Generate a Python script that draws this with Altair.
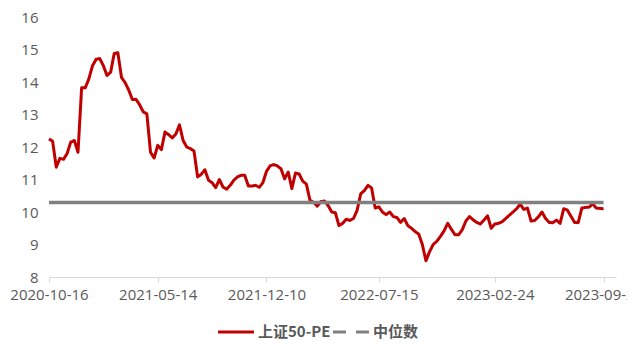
import altair as alt
import pandas as pd

# Weekly PE values of SSE 50
pe = [
    12.25, 12.18, 11.38, 11.65, 11.62, 11.80, 12.15, 12.20, 11.84, 13.82,
    13.82, 14.10, 14.50, 14.70, 14.72, 14.50, 14.20, 14.30, 14.88, 14.90,
    14.14, 13.98, 13.75, 13.46, 13.47, 13.30, 13.08, 13.02, 11.84, 11.66,
    12.05, 11.92, 12.46, 12.38, 12.28, 12.40, 12.68, 12.20, 12.00, 11.95,
    11.88, 11.08, 11.16, 11.30, 10.98, 10.90, 10.75, 11.00, 10.77, 10.70,
    10.82, 10.98, 11.08, 11.13, 11.13, 10.80, 10.80, 10.82, 10.76, 10.90,
    11.25, 11.42, 11.46, 11.42, 11.33, 11.02, 11.23, 10.72, 11.20, 11.17,
    10.95, 10.86, 10.36, 10.30, 10.18, 10.32, 10.34, 10.20, 10.00, 9.98,
    9.58, 9.65, 9.78, 9.74, 9.80, 10.05, 10.56, 10.66, 10.82, 10.74,
    10.12, 10.16, 10.00, 9.92, 10.00, 9.86, 9.83, 9.68, 9.80, 9.58,
    9.50, 9.40, 9.32, 9.00, 8.50, 8.78, 9.00, 9.10, 9.25, 9.42,
    9.65, 9.47, 9.30, 9.30, 9.45, 9.72, 9.86, 9.76, 9.68, 9.63,
    9.75, 9.88, 9.50, 9.63, 9.65, 9.70, 9.80, 9.90, 10.00, 10.10,
    10.24, 10.08, 10.12, 9.72, 9.74, 9.85, 10.00, 9.80, 9.68, 9.67,
    9.75, 9.65, 10.10, 10.06, 9.87, 9.68, 9.67, 10.12, 10.14, 10.15,
    10.25, 10.12, 10.11, 10.10,
]
median_pe = 10.29
start_date = "2020-10-16"
tick_dates = [(2020, 10, 16), (2021, 5, 14), (2021, 12, 10),
              (2022, 7, 15), (2023, 2, 24), (2023, 9, 22)]
domain_end = (2023, 10, 16)
y_ticks = [8, 9, 10, 11, 12, 13, 14, 15, 16]
series_names = ["上证50-PE", "中位数"]
series_colors = ["#C00000", "#808080"]

dates = list(pd.date_range(start_date, periods=len(pe), freq="7D").strftime("%Y-%m-%d"))
n = len(pe)
df = pd.DataFrame({
    "date": dates * 2,
    "value": pe + [median_pe] * n,
    "series": [series_names[0]] * n + [series_names[1]] * n,
})

def dt(t):
    return alt.DateTime(year=t[0], month=t[1], date=t[2], utc=True)

x_enc = alt.X(
    "date:T",
    scale=alt.Scale(type="utc", domain=[dt(tick_dates[0]), dt(domain_end)]),
    axis=alt.Axis(
        values=[dt(t) for t in tick_dates], format="%Y-%m-%d", title=None,
        grid=False, domainColor="#d9d9d9", tickColor="#d9d9d9", tickSize=5,
        labelPadding=5, labelFont="Open Sans", labelFontSize=15,
        labelColor="#595959", labelOverlap=False, labelFlush=False,
    ),
)
y_enc = alt.Y(
    "value:Q",
    scale=alt.Scale(domain=[8, 16], nice=False, zero=False),
    axis=alt.Axis(
        values=y_ticks, title=None, grid=False, domain=False, ticks=False,
        labelPadding=11, labelFont="Open Sans", labelFontSize=15,
        labelColor="#595959",
    ),
)
color_enc = alt.Color(
    "series:N",
    scale=alt.Scale(domain=series_names, range=series_colors),
    legend=alt.Legend(title=None),
)
dash_enc = alt.StrokeDash(
    "series:N",
    scale=alt.Scale(domain=series_names, range=[[1, 0], [13, 10]]),
    legend=alt.Legend(title=None),
)

base = alt.Chart(df)
pe_line = base.transform_filter(alt.datum.series == series_names[0]).mark_line(
    strokeWidth=3, strokeJoin="round"
).encode(x=x_enc, y=y_enc, color=color_enc, strokeDash=dash_enc)

med_line = base.transform_filter(alt.datum.series == series_names[1]).mark_line(
    strokeWidth=3.5
).encode(x=x_enc, y=y_enc, color=color_enc)

chart = alt.layer(pe_line, med_line).properties(
    width=567, height=260,
    autosize=alt.AutoSizeParams(type="none"),
    padding={"left": 41, "top": 9, "right": 11, "bottom": 64},
).configure_view(strokeWidth=0).configure_legend(
    orient="none", legendX=167, legendY=295, direction="horizontal",
    symbolType="stroke", symbolSize=1300, symbolStrokeWidth=3,
    labelFont="Noto Sans CJK SC", labelFontWeight="bold", labelFontSize=15,
    labelColor="#595959", labelOffset=2, columnPadding=-8,
)

chart.save("out.html", embed_options={"renderer": "svg", "actions": False})
